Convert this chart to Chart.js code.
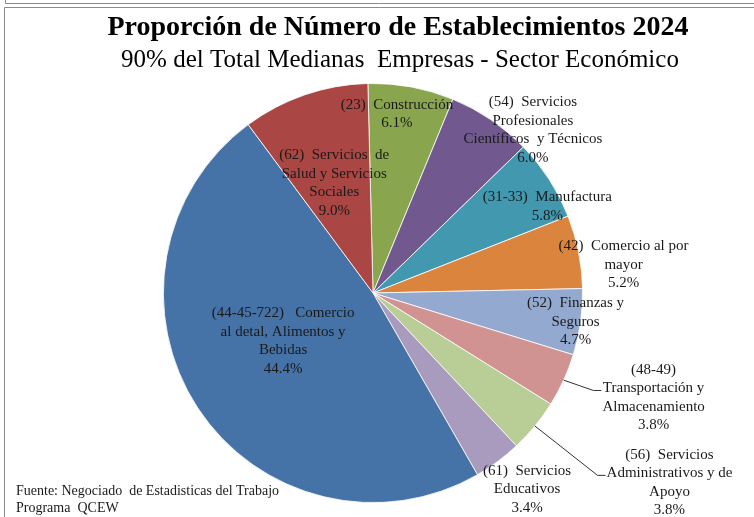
<!DOCTYPE html>
<html>
<head>
<meta charset="utf-8">
<script src="https://cdn.jsdelivr.net/npm/chart.js@4/dist/chart.umd.min.js"></script>
<style>
  html, body { margin: 0; padding: 0; background: #ffffff; }
  canvas { display: block; }
</style>
</head>
<body>
<canvas id="c" width="754" height="517"></canvas>
<script>
// ---- data ----
const titleText = "Proporción de Número de Establecimientos 2024";
const subtitleText = "90% del Total Medianas  Empresas - Sector Económico";
const sourceLines = ["Fuente: Negociado  de Estadisticas del Trabajo", "Programa  QCEW"];

const categories = [
  "Construcción",
  "Servicios Profesionales Científicos y Técnicos",
  "Manufactura",
  "Comercio al por mayor",
  "Finanzas y Seguros",
  "Transportación y Almacenamiento",
  "Servicios Administrativos y de Apoyo",
  "Servicios Educativos",
  "Comercio al detal, Alimentos y Bebidas",
  "Servicios de Salud y Servicios Sociales"
];
const values = [6.1, 6.0, 5.8, 5.2, 4.7, 3.8, 3.8, 3.4, 44.4, 9.0];
const labelLines = [
  ["(23)  Construcción"],
  ["(54)  Servicios", "Profesionales", "Científicos  y Técnicos"],
  ["(31-33)  Manufactura"],
  ["(42)  Comercio al por", "mayor"],
  ["(52)  Finanzas y", "Seguros"],
  ["(48-49)", "Transportación y", "Almacenamiento"],
  ["(56)  Servicios", "Administrativos y de", "Apoyo"],
  ["(61)  Servicios", "Educativos"],
  ["(44-45-722)   Comercio", "al detal, Alimentos y", "Bebidas"],
  ["(62)  Servicios  de", "Salud y Servicios", "Sociales"]
];
const colors = ["#89A54E", "#71588F", "#4198AF", "#DB843D", "#93A9CF",
                "#D19392", "#B9CD96", "#A99BBD", "#4572A7", "#AA4643"];

// label placement: [angle offset from slice middle (deg), radius factor]
const labelPlacement = [
  [-2.9, 0.862], [10.3, 1.09], [6.4, 0.929], [4.9, 1.203], [0.1, 0.976],
  [-4.1, 1.429], [-6.8, 1.679], [-1.6, 1.19], [5.2, 0.486], [-0.4, 0.557]
];
const leaderSlices = [5, 6];

const LABEL_FONT = "15px 'Liberation Serif', 'Times New Roman', serif";
const LINE_H = 18.5;

const decorPlugin = {
  id: 'decor',
  beforeDraw(chart) {
    const ctx = chart.ctx;
    ctx.save();
    ctx.fillStyle = '#ffffff';
    ctx.fillRect(0, 0, chart.width, chart.height);
    ctx.strokeStyle = '#8a8a8a';
    ctx.lineWidth = 1;
    ctx.beginPath();
    ctx.moveTo(5.5, 0); ctx.lineTo(5.5, 3.5); ctx.lineTo(754, 3.5);
    ctx.stroke();
    ctx.beginPath();
    ctx.moveTo(4.5, 520); ctx.lineTo(4.5, 7.5); ctx.lineTo(754, 7.5);
    ctx.stroke();
    ctx.restore();
  },
  afterDraw(chart) {
    const ctx = chart.ctx;
    ctx.save();
    ctx.fillStyle = '#000';
    ctx.textAlign = 'center';
    ctx.textBaseline = 'alphabetic';
    ctx.font = "bold 28px 'Liberation Serif', 'Times New Roman', serif";
    ctx.fillText(titleText, 398, 35);
    ctx.font = "25px 'Liberation Serif', 'Times New Roman', serif";
    ctx.fillText(subtitleText, 400, 67);
    ctx.textAlign = 'left';
    ctx.textBaseline = 'middle';
    ctx.font = "14px 'Liberation Serif', 'Times New Roman', serif";
    ctx.fillStyle = '#1a1a1a';
    sourceLines.forEach((t, i) => ctx.fillText(t, 16, 491 + i * 17));

    // slice labels
    const meta = chart.getDatasetMeta(0);
    ctx.font = LABEL_FONT;
    ctx.fillStyle = '#1a1a1a';
    meta.data.forEach((arc, i) => {
      const p = arc.getProps(['x', 'y', 'startAngle', 'endAngle', 'outerRadius'], true);
      const mid = (p.startAngle + p.endAngle) / 2;
      const a = mid + labelPlacement[i][0] * Math.PI / 180;
      const r = p.outerRadius * labelPlacement[i][1];
      const cx = p.x + Math.cos(a) * r;
      const cy = p.y + Math.sin(a) * r;
      const lines = labelLines[i].concat([values[i].toFixed(1) + '%']);
      const y0 = cy - (lines.length - 1) / 2 * LINE_H;
      ctx.textAlign = 'center';
      let maxW = 0;
      lines.forEach((t, k) => {
        ctx.fillText(t, cx, y0 + k * LINE_H);
        maxW = Math.max(maxW, ctx.measureText(t).width);
      });
      if (leaderSlices.includes(i)) {
        const sx = p.x + Math.cos(mid) * p.outerRadius;
        const sy = p.y + Math.sin(mid) * p.outerRadius;
        const ex = cx - maxW / 2 - 1;
        const ey = y0 + LINE_H + 2;
        ctx.save();
        ctx.strokeStyle = '#333';
        ctx.lineWidth = 1;
        ctx.beginPath();
        ctx.moveTo(sx, sy);
        ctx.lineTo(ex - 8, ey);
        ctx.lineTo(ex, ey);
        ctx.stroke();
        ctx.restore();
      }
    });
    ctx.restore();
  }
};

new Chart(document.getElementById('c'), {
  type: 'pie',
  data: {
    labels: categories,
    datasets: [{
      data: values,
      backgroundColor: colors,
      borderColor: '#ffffff',
      borderWidth: 0.8
    }]
  },
  options: {
    responsive: false,
    animation: false,
    rotation: -1.4,
    layout: { padding: { top: 83, left: 163, right: 171, bottom: 14 } },
    plugins: {
      legend: { display: false },
      tooltip: { enabled: false },
      title: { display: false }
    },
    events: []
  },
  plugins: [decorPlugin]
});
</script>
</body>
</html>
